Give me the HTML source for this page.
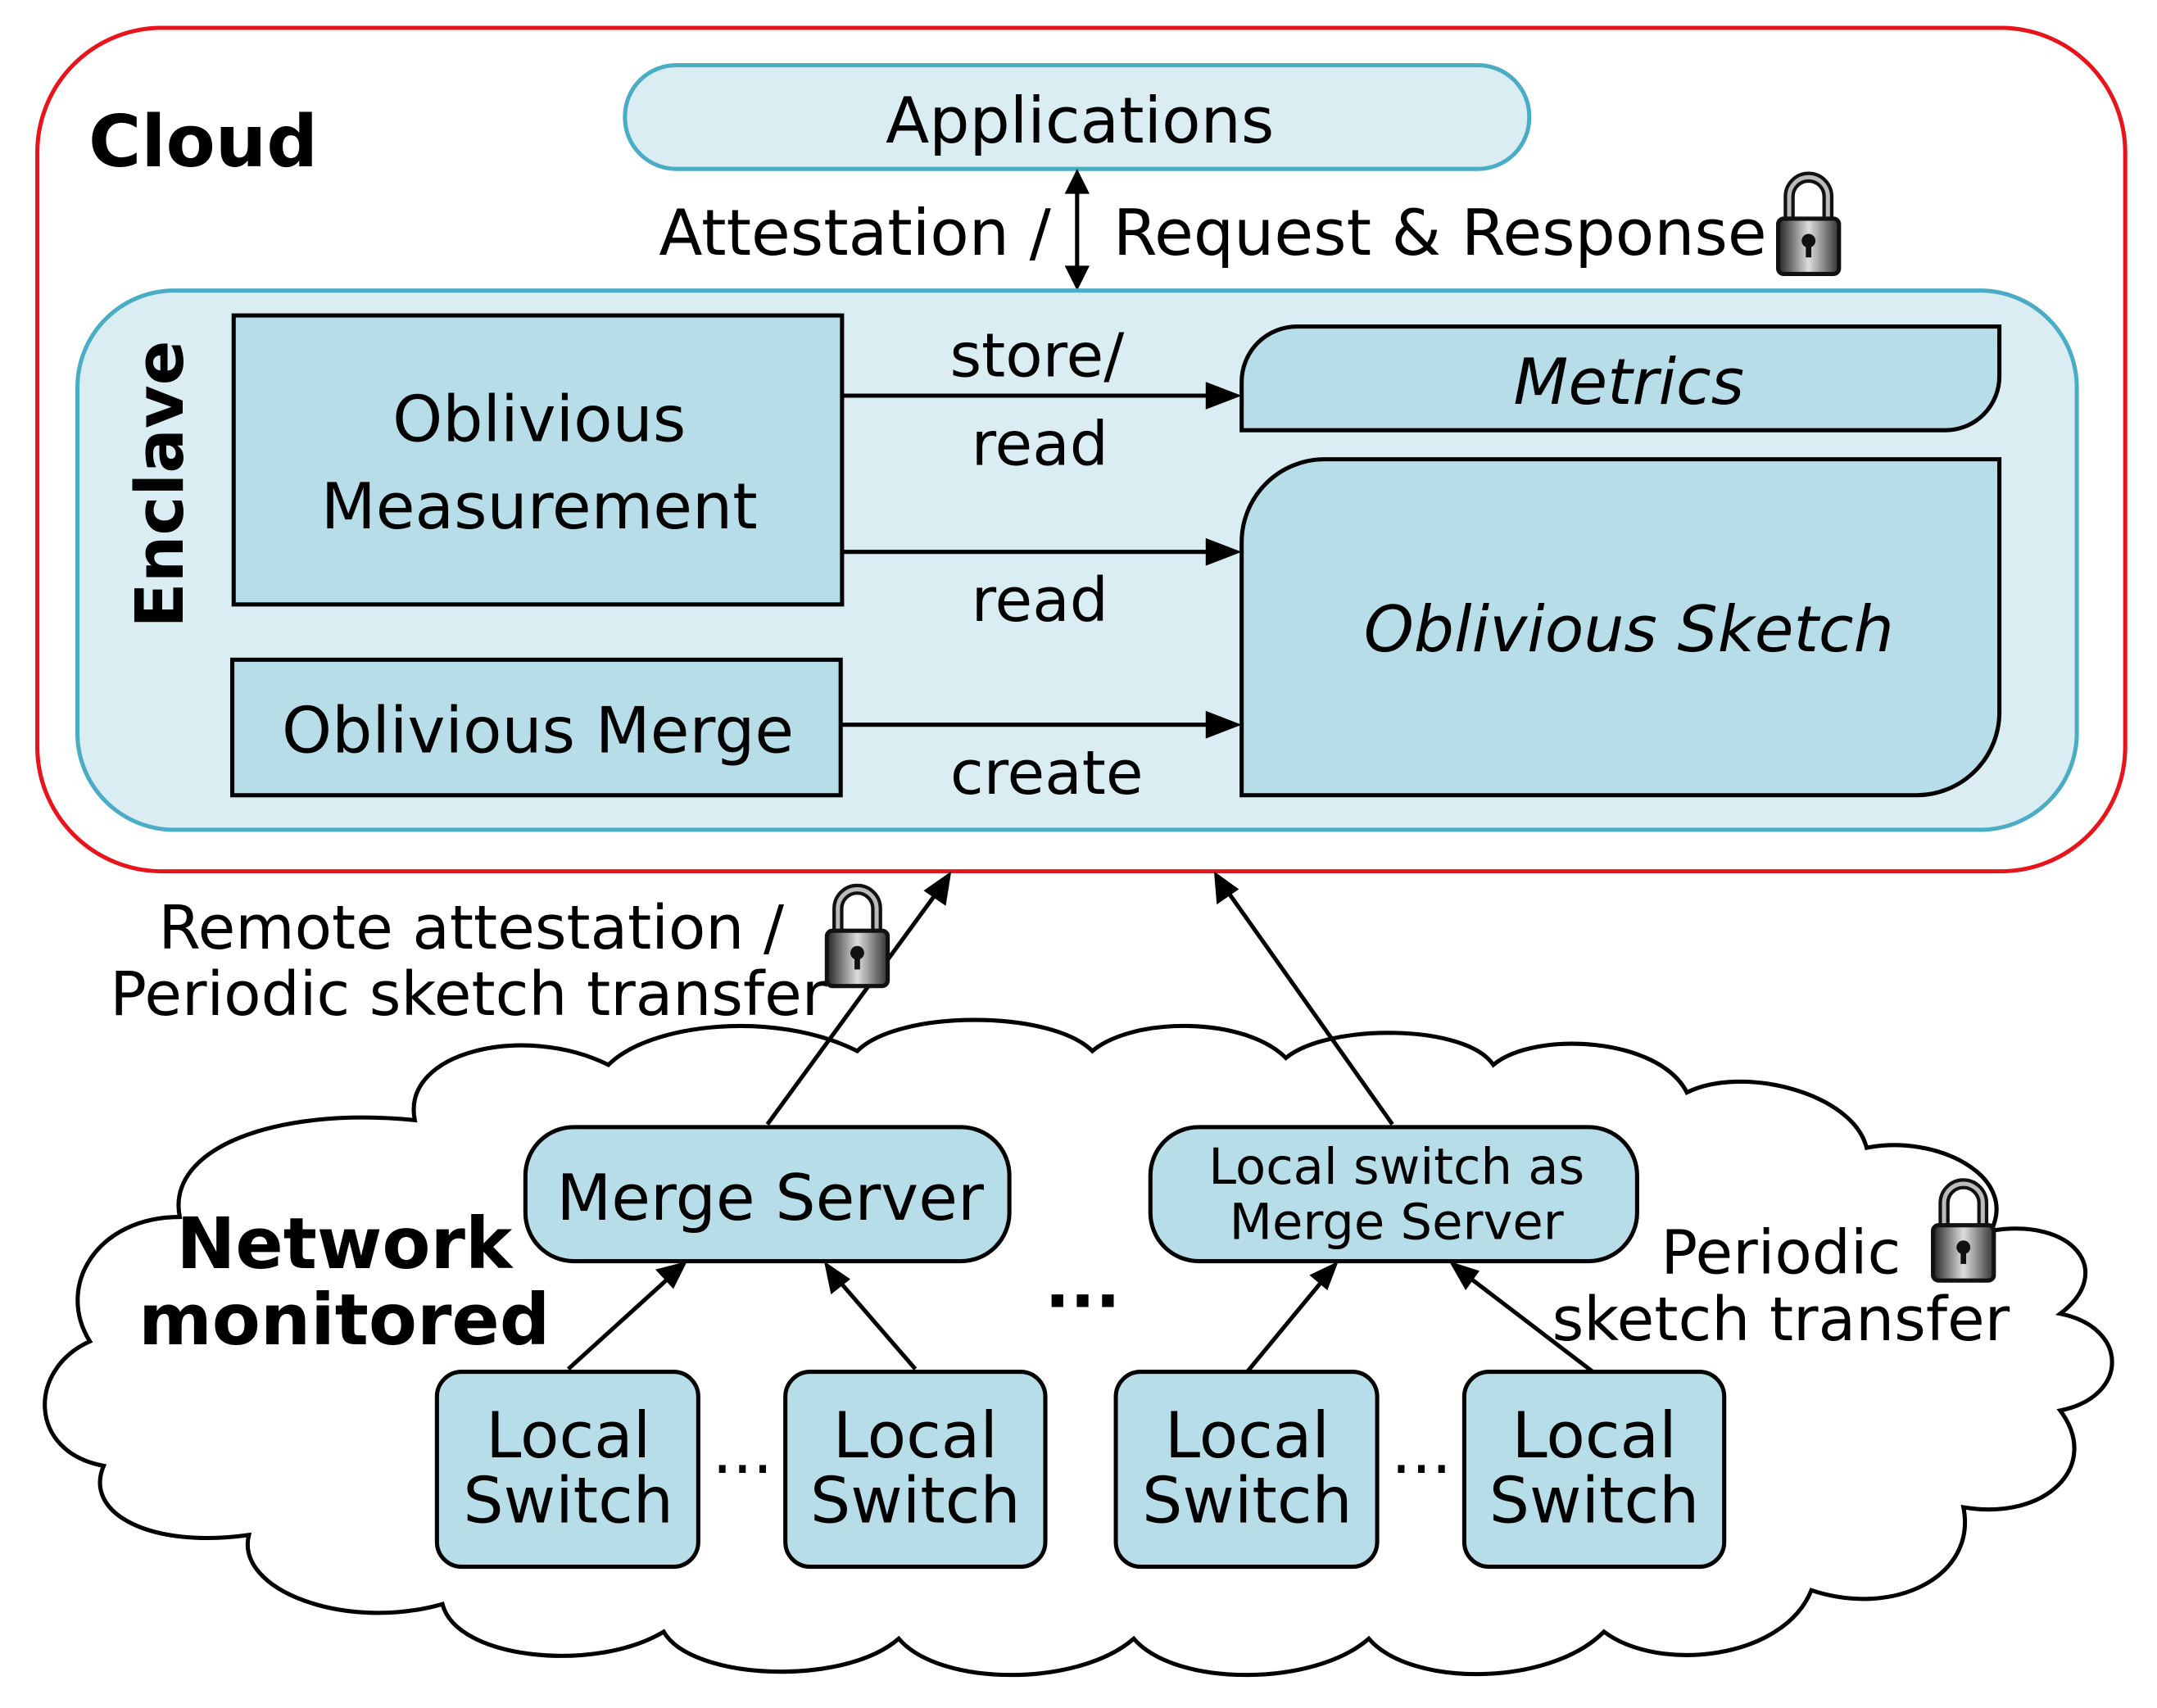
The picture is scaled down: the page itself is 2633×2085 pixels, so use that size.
<!DOCTYPE html>
<html><head><meta charset="utf-8"><style>
html,body{margin:0;padding:0;background:#fff;}
svg{display:block;}
text{font-family:"DejaVu Sans","Liberation Sans",sans-serif;fill:#000;}
</style></head><body>
<svg width="2633" height="2085" viewBox="0 0 1560 1235" xmlns="http://www.w3.org/2000/svg">
<defs>
<linearGradient id="lg" x1="0" x2="1"><stop offset="0" stop-color="#222"/><stop offset="0.5" stop-color="#ddd"/><stop offset="1" stop-color="#333"/></linearGradient>
<g id="lock">
<path d="M-14,0 V-18 A14,14 0 0 1 14,-18 V0" fill="none" stroke="#111" stroke-width="8"/>
<path d="M-14,0 V-18 A14,14 0 0 1 14,-18 V0" fill="none" stroke="#bbb" stroke-width="3"/>
<rect x="-22" y="-2" width="44" height="40" rx="4" fill="url(#lg)" stroke="#111" stroke-width="3"/>
<circle cx="0" cy="14" r="5" fill="#111"/><rect x="-2" y="14" width="4" height="12" fill="#111"/>
</g>
</defs>
<style>.ar{stroke:#000;stroke-width:3;fill:none}</style>

<rect x="27" y="20" width="1510" height="610" rx="90" fill="none" stroke="#e8141b" stroke-width="3"/>
<text x="64" y="120" font-size="52" font-weight="bold">Cloud</text>

<rect x="452" y="47" width="654" height="75" rx="37" fill="#daedf3" stroke="#4bacc6" stroke-width="3"/>
<text x="781" y="103" font-size="46" text-anchor="middle">Applications</text>

<line x1="779" y1="136" x2="779" y2="196" class="ar"/>
<polygon points="779,122 770,140 788,140" fill="#000"/>
<polygon points="779,210 770,192 788,192" fill="#000"/>
<text x="760" y="184" font-size="46" text-anchor="end">Attestation /</text>
<text x="805" y="184" font-size="46">Request &amp; Response</text>
<use href="#lock" transform="translate(1308,160)"/>

<rect x="56" y="210" width="1446" height="390" rx="70" fill="#daedf3" stroke="#4bacc6" stroke-width="3"/>
<text transform="translate(132,350) rotate(-90)" font-size="48" font-weight="bold" text-anchor="middle">Enclave</text>

<rect x="169" y="228" width="440" height="209" fill="#b7dde8" stroke="#000" stroke-width="3"/>
<text x="390" y="319" font-size="46" text-anchor="middle">Oblivious</text>
<text x="390" y="382" font-size="46" text-anchor="middle">Measurement</text>

<rect x="168" y="477" width="440" height="98" fill="#b7dde8" stroke="#000" stroke-width="3"/>
<text x="389" y="544" font-size="46" text-anchor="middle">Oblivious Merge</text>

<path d="M938,236 H1446 V272 A39,39 0 0 1 1407,311 H898 V276 A40,40 0 0 1 938,236 Z" fill="#b7dde8" stroke="#000" stroke-width="3"/>
<text x="1178" y="292" font-size="46" font-style="italic" text-anchor="middle">Metrics</text>

<path d="M958,332 H1446 V515 A60,60 0 0 1 1386,575 H898 V392 A60,60 0 0 1 958,332 Z" fill="#b7dde8" stroke="#000" stroke-width="3"/>
<text x="1178" y="471" font-size="46" font-style="italic" text-anchor="middle">Oblivious Sketch</text>

<line x1="609" y1="286" x2="880" y2="286" class="ar"/><polygon points="898,286 872,276 872,296" fill="#000"/>
<line x1="609" y1="399" x2="880" y2="399" class="ar"/><polygon points="898,399 872,389 872,409" fill="#000"/>
<line x1="608" y1="524" x2="880" y2="524" class="ar"/><polygon points="898,524 872,514 872,534" fill="#000"/>
<text x="750" y="272" font-size="44" text-anchor="middle">store/</text>
<text x="752" y="336" font-size="44" text-anchor="middle">read</text>
<text x="752" y="449" font-size="44" text-anchor="middle">read</text>
<text x="757" y="574" font-size="44" text-anchor="middle">create</text>

<path d="M75,1060 C20,1050 20,990 65,970 C40,930 70,880 130,880 C120,830 200,800 300,810 C290,760 380,740 440,770 C470,740 560,730 620,760 C650,730 760,730 790,760 C820,735 900,735 930,765 C960,740 1060,740 1080,770 C1110,745 1200,750 1220,790 C1260,770 1340,790 1350,830 C1400,820 1460,850 1440,890 C1500,880 1530,920 1490,950 C1540,960 1540,1010 1490,1020 C1520,1060 1480,1100 1420,1090 C1430,1140 1370,1170 1310,1150 C1290,1200 1200,1210 1160,1180 C1120,1220 1020,1220 990,1185 C950,1220 850,1220 820,1185 C780,1220 680,1220 650,1185 C610,1220 500,1215 480,1180 C430,1210 330,1200 320,1160 C250,1180 170,1150 180,1110 C110,1120 60,1095 75,1060 Z" fill="#fff" stroke="#000" stroke-width="3"/>

<text x="249" y="917" font-size="51" font-weight="bold" text-anchor="middle">Network</text>
<text x="249" y="972" font-size="51" font-weight="bold" text-anchor="middle">monitored</text>

<line x1="555" y1="813" x2="680" y2="642" class="ar"/><polygon points="688,630 668,644 684,655" fill="#000"/>
<line x1="1007" y1="813" x2="886" y2="642" class="ar"/><polygon points="878,630 880,654 896,643" fill="#000"/>

<text x="567" y="686" font-size="44" text-anchor="end">Remote attestation /</text>
<text x="598" y="734" font-size="44" text-anchor="end">Periodic sketch transfer</text>
<use href="#lock" transform="translate(620,675)"/>

<rect x="380" y="815" width="350" height="97" rx="35" fill="#b7dde8" stroke="#000" stroke-width="3"/>
<text x="557" y="882" font-size="46" text-anchor="middle">Merge Server</text>
<rect x="832" y="815" width="352" height="97" rx="35" fill="#b7dde8" stroke="#000" stroke-width="3"/>
<text x="1010" y="856" font-size="36" text-anchor="middle">Local switch as</text>
<text x="1010" y="896" font-size="36" text-anchor="middle">Merge Server</text>

<text x="783" y="945" font-size="48" text-anchor="middle" font-weight="bold">...</text>

<text x="1288" y="921" font-size="44" text-anchor="middle">Periodic</text>
<text x="1288" y="969" font-size="44" text-anchor="middle">sketch transfer</text>
<use href="#lock" transform="translate(1420,888)"/>

<g font-size="46" text-anchor="middle">
<rect x="316" y="992" width="189" height="141" rx="18" fill="#b7dde8" stroke="#000" stroke-width="3"/>
<text x="411" y="1054">Local</text><text x="411" y="1101">Switch</text>
<rect x="568" y="992" width="188" height="141" rx="18" fill="#b7dde8" stroke="#000" stroke-width="3"/>
<text x="662" y="1054">Local</text><text x="662" y="1101">Switch</text>
<rect x="807" y="992" width="189" height="141" rx="18" fill="#b7dde8" stroke="#000" stroke-width="3"/>
<text x="902" y="1054">Local</text><text x="902" y="1101">Switch</text>
<rect x="1059" y="992" width="188" height="141" rx="18" fill="#b7dde8" stroke="#000" stroke-width="3"/>
<text x="1153" y="1054">Local</text><text x="1153" y="1101">Switch</text>
<text x="537" y="1065">...</text><text x="1028" y="1065">...</text>
</g>

<line x1="411" y1="990" x2="486" y2="922" class="ar"/><polygon points="497,912 474,918 487,932" fill="#000"/>
<line x1="662" y1="990" x2="604" y2="923" class="ar"/><polygon points="596,912 601,936 615,925" fill="#000"/>
<line x1="902" y1="992" x2="959" y2="923" class="ar"/><polygon points="968,912 947,922 960,933" fill="#000"/>
<line x1="1152" y1="992" x2="1059" y2="921" class="ar"/><polygon points="1048,912 1060,933 1070,919" fill="#000"/>
</svg>
</body></html>
